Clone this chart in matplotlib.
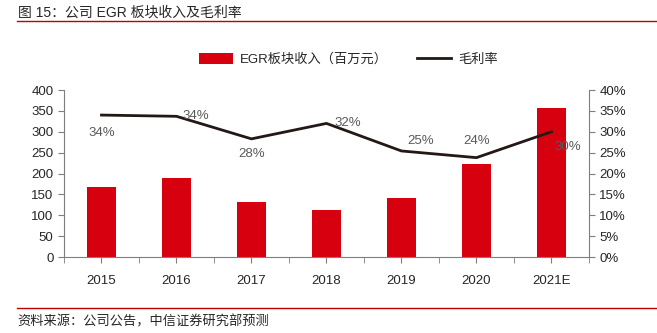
import matplotlib
matplotlib.use("Agg")
import matplotlib.pyplot as plt
from matplotlib.ticker import FuncFormatter, FixedLocator

plt.rcParams['font.family'] = ['Liberation Sans', 'Noto Sans CJK SC', 'DejaVu Sans']

# EGR segment revenue (million yuan) and gross margin
years = ["2015", "2016", "2017", "2018", "2019", "2020", "2021E"]
revenue = [167, 189, 132, 113, 141, 223, 357]
margin = [0.34, 0.337, 0.283, 0.32, 0.254, 0.238, 0.30]
margin_labels = ["34%", "34%", "28%", "32%", "25%", "24%", "30%"]
# label offsets in points (dx, dy)
label_offsets = [(0, -13), (14, 0), (0, -11), (15, 0), (14, 7), (0, 12), (12, -11)]

red = "#d7000f"
grey_axis = "#7f7f7f"
text_col = "#262626"

fig = plt.figure(figsize=(6.57, 3.33), dpi=100)
ax = fig.add_axes([0.0974, 0.2282, 0.799, 0.5015])
ax2 = ax.twinx()

x = list(range(len(years)))
bars = ax.bar(x, revenue, width=0.39, color=red, zorder=2,
              label="EGR板块收入（百万元）")
line, = ax2.plot(x, margin, color="#231815", linewidth=2, zorder=3,
                 label="毛利率")

for i, (m, lab) in enumerate(zip(margin, margin_labels)):
    dx, dy = label_offsets[i]
    ax2.annotate(lab, (i, m), xytext=(dx, dy), textcoords="offset points",
                 ha="center", va="center", fontsize=9.5, color="#595959")

ax.set_xlim(-0.5, len(years) - 0.5)
ax.set_ylim(0, 400)
ax.set_yticks(range(0, 401, 50))
ax2.set_ylim(0, 0.40)
ax2.set_yticks([i * 0.05 for i in range(9)])
ax2.yaxis.set_major_formatter(FuncFormatter(lambda v, p: f"{v * 100:.0f}%"))

# category ticks between bars
ax.set_xticks(x)
ax.set_xticklabels(years)
ax.xaxis.set_minor_locator(FixedLocator([i - 0.5 for i in range(len(years) + 1)]))
ax.tick_params(axis="x", which="major", length=0, pad=9)
ax.tick_params(axis="x", which="minor", length=4, color=grey_axis, direction="out")

for a in (ax, ax2):
    a.spines["top"].set_visible(False)
    for s in ("left", "right", "bottom"):
        a.spines[s].set_color(grey_axis)
        a.spines[s].set_linewidth(0.8)
    a.tick_params(labelsize=9.5, labelcolor=text_col, color=grey_axis, length=4)
ax.spines["right"].set_visible(False)
ax2.spines["left"].set_visible(False)
ax2.spines["bottom"].set_visible(False)

fig.legend([bars, line], ["EGR板块收入（百万元）", "毛利率"],
           loc="center", bbox_to_anchor=(0.53, 0.822), ncol=2, frameon=False,
           fontsize=9.5, handlelength=2.6, handleheight=0.9, columnspacing=2.2,
           handletextpad=0.5, labelcolor=text_col)

# header and footer
fig.text(0.027, 0.963, "图 15：公司 EGR 板块收入及毛利率", fontsize=10,
         color=text_col, ha="left", va="center")
fig.add_artist(plt.Line2D([0.026, 1.0], [0.938, 0.938], color="#c00000",
                          linewidth=1, transform=fig.transFigure))
fig.add_artist(plt.Line2D([0.026, 1.0], [0.075, 0.075], color="#c00000",
                          linewidth=1, transform=fig.transFigure))
fig.text(0.027, 0.033, "资料来源：公司公告，中信证券研究部预测", fontsize=9.5,
         color=text_col, ha="left", va="center")

fig.savefig("out.png", dpi=100, facecolor="white")
